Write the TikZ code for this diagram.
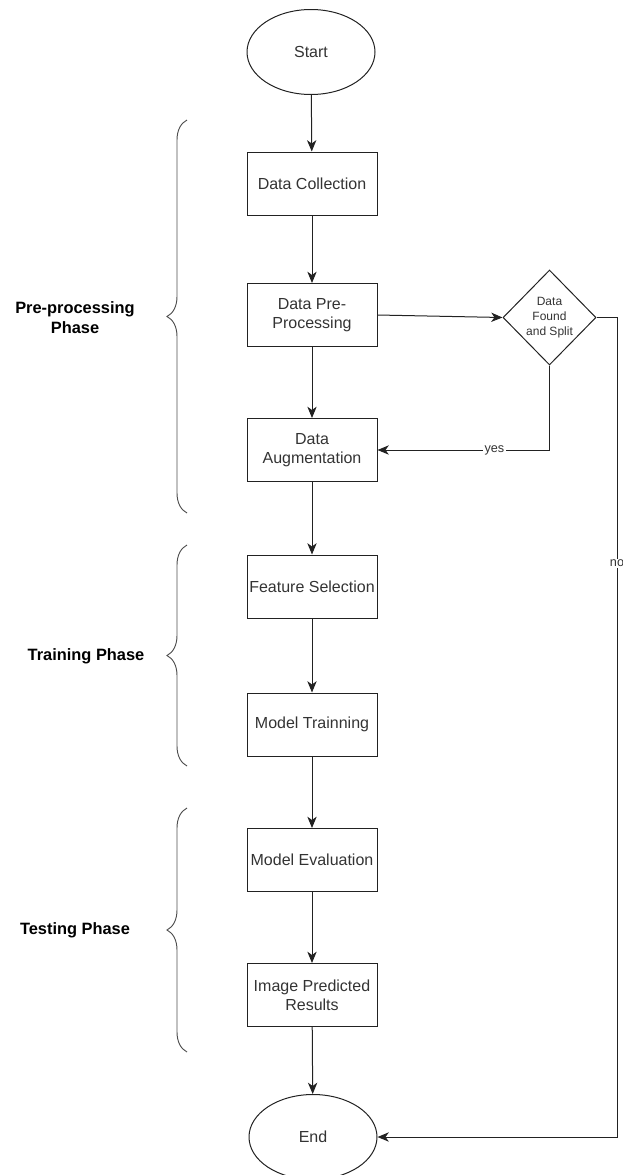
\documentclass[tikz,border=0pt]{standalone}
\usepackage{fontspec}
\setmainfont{Liberation Sans}
\usetikzlibrary{shapes.geometric, arrows.meta, decorations.pathreplacing}
\definecolor{boxtext}{HTML}{333333}
\definecolor{edgegray}{HTML}{222222}

\begin{document}
\begin{tikzpicture}[x=0.75pt, y=-0.75pt, line width=0.75pt]
    \tikzset{process/.style = {draw=edgegray, rectangle, minimum width=97.5pt, minimum height=47.25pt, inner sep=1pt, align=center, text=boxtext, font=\fontsize{12}{14.25}\selectfont}}
    \tikzset{terminal/.style = {draw=edgegray, ellipse, minimum width=96pt, minimum height=63.75pt, text=boxtext, font=\fontsize{12}{14.25}\selectfont}}
    \tikzset{decision/.style = {draw=edgegray, diamond, aspect=1, minimum width=69.75pt, minimum height=71.25pt, inner sep=0pt, align=center, text=boxtext, font=\fontsize{9}{11.25}\selectfont}}
    \tikzset{flow/.style = {draw=edgegray, -{Stealth[length=8.5pt, width=7pt, inset=2.5pt]}}}
    \tikzset{lbl/.style = {fill=white, inner sep=1pt, text=boxtext, font=\fontsize{9.5}{10}\selectfont}}
    \tikzset{phase/.style = {align=center, font=\fontsize{12.3}{15}\selectfont\bfseries}}
    \tikzset{bracket/.style = {draw=edgegray!80, line width=0.7pt, decorate, decoration={brace, amplitude=15pt}}}

    \useasboundingbox (0,0) rectangle (622,1175);

    \node[terminal] (start) at (311,52) {Start};
    \node[process] (collect) at (312,183.5) {Data Collection};
    \node[process] (prep) at (312,315) {Data Pre-\\Processing};
    \node[process] (augment) at (312,450) {Data\\Augmentation};
    \node[process] (feature) at (312,586.5) {Feature Selection};
    \node[process] (train) at (312,724.5) {Model Trainning};
    \node[process] (evaluate) at (312,860) {Model Evaluation};
    \node[process] (predict) at (312,995) {Image Predicted\\Results};
    \node[terminal] (end) at (313,1137) {End};
    \node[decision] (split) at (549.5,317.5) {Data\\Found\\and Split};

    \draw[flow] (start) -- (collect);
    \draw[flow] (collect) -- (prep);
    \draw[flow] (prep) -- (augment);
    \draw[flow] (augment) -- (feature);
    \draw[flow] (feature) -- (train);
    \draw[flow] (train) -- (evaluate);
    \draw[flow] (evaluate) -- (predict);
    \draw[flow] (predict) -- (end);
    \draw[flow] (prep.east) -- (split.west);

    % decision branches
    \draw[flow] (split.south) |- node[lbl, pos=0.66]{yes} (augment.east);
    \coordinate (noturn) at (617,317.5);
    \coordinate (nodown) at (617,1137);
    \draw[flow] (split.east) -- (noturn) -- node[lbl, pos=0.3]{no} (nodown) -- (end.east);

    % phases
    \draw[bracket] (187,513) -- (187,120);
    \draw[bracket] (187,766) -- (187,545);
    \draw[bracket] (187,1052) -- (187,808);
    \node[phase] (prephase) at (75,318) {Pre-processing\\Phase};
    \node[phase] (trainphase) at (86,656) {Training Phase};
    \node[phase] (testphase) at (75,930) {Testing Phase};

\end{tikzpicture}
\end{document}
